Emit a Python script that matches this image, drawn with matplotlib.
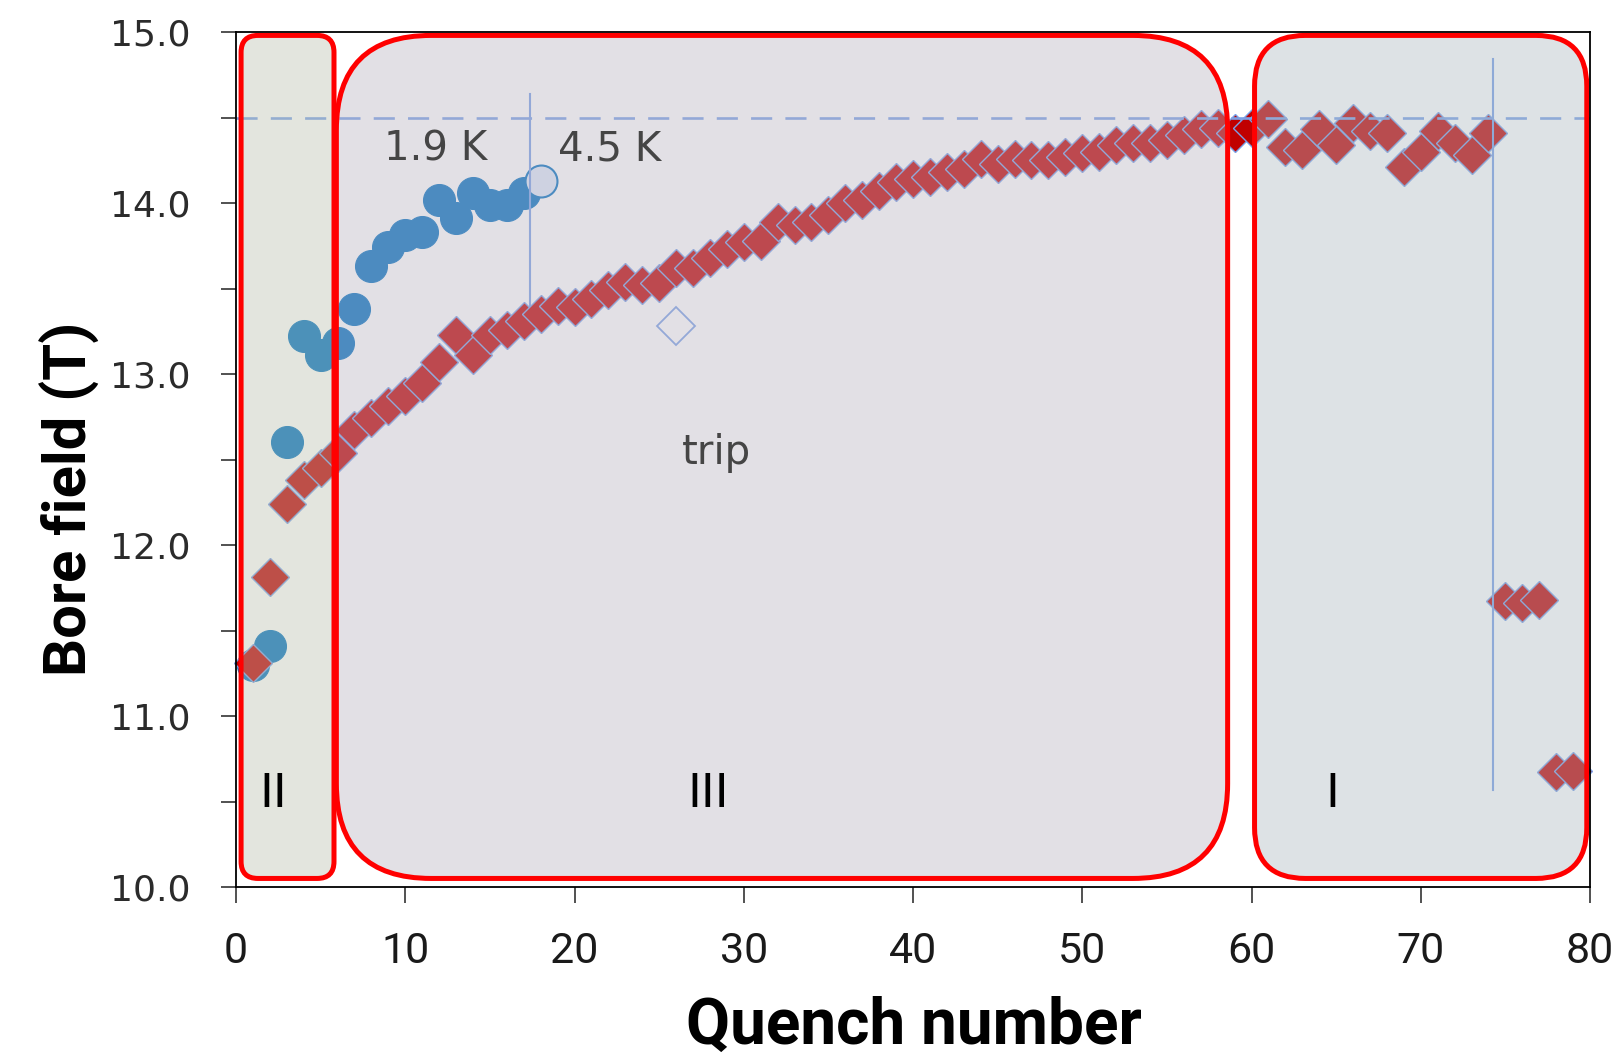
import numpy as np
import matplotlib
matplotlib.use("Agg")
import matplotlib.pyplot as plt
from matplotlib.patches import FancyBboxPatch
from matplotlib import font_manager

# ---------------- data ----------------
quench_red = list(range(1, 80))
field_red = [11.31, 11.81, 12.24, 12.38, 12.45, 12.54, 12.67, 12.74, 12.81, 12.87,
             12.95, 13.07, 13.23, 13.11, 13.23, 13.26, 13.31, 13.35, 13.40, 13.39,
             13.44, 13.49, 13.54, 13.52, 13.53, 13.62, 13.62, 13.68, 13.73, 13.77,
             13.78, 13.89, 13.87, 13.89, 13.93, 14.00, 14.02, 14.07, 14.12, 14.14,
             14.15, 14.18, 14.20, 14.26, 14.23, 14.26, 14.25, 14.25, 14.27, 14.29,
             14.30, 14.34, 14.35, 14.35, 14.37, 14.40, 14.43, 14.44, 14.41, 14.44,
             14.49, 14.33, 14.31, 14.43, 14.34, 14.47, 14.42, 14.41, 14.21, 14.30,
             14.42, 14.35, 14.28, 14.41, 11.67, 11.66, 11.68, 10.67, 10.68]

quench_blue = list(range(1, 18))
field_blue = [11.30, 11.41, 12.60, 13.22, 13.11, 13.18, 13.38, 13.63, 13.74, 13.81,
              13.83, 14.02, 13.91, 14.06, 13.99, 13.99, 14.06]

quench_blue45 = [18]
field_blue45 = [14.13]

trip_quench = [26]
trip_field = [13.28]

ref_field = 14.5
temp_switch_x = 17.4
temp_switch_y = [13.40, 14.64]
last_x = 74.25
last_y = [10.57, 14.84]

x_ticks = [0, 10, 20, 30, 40, 50, 60, 70, 80]
y_ticks = [10.0, 11.0, 12.0, 13.0, 14.0, 15.0]

# regions: (label, x0, x1, rounding radius in x units, fill colour rgb)
regions = [("II", 0.30, 5.79, 1.0, (0.733, 0.762, 0.696)),
           ("III", 5.93, 58.59, 5.6, (0.725, 0.706, 0.761)),
           ("I", 60.18, 79.81, 3.0, (0.677, 0.724, 0.762))]
region_y = (10.05, 14.98)

# ---------------- fonts ----------------
names = {f.name for f in font_manager.fontManager.ttflist}
narrow = "Roboto" if "Roboto" in names else "DejaVu Sans"

# ---------------- figure ----------------
W, H = 1623, 1060
fig = plt.figure(figsize=(W / 100, H / 100), dpi=100)
L, R, T, B = 236, 1590, 32, 887
ax = fig.add_axes([L / W, 1 - B / H, (R - L) / W, (B - T) / H])
ax.set_xlim(0, 80)
ax.set_ylim(10, 15)

marker_edge = "#7aa0e6"

# blue 1.9 K
ax.plot(quench_blue, field_blue, ls="none", marker="o", ms=23,
        mfc="#0070c0", mec="#0070c0", mew=0.8, clip_on=False, zorder=3)
# 4.5 K
ax.plot(quench_blue45, field_blue45, ls="none", marker="o", ms=23,
        mfc="#dde8f8", mec="#0070c0", mew=1.5, clip_on=False, zorder=3)
# red diamonds
ax.plot(quench_red, field_red, ls="none", marker="D", ms=19,
        mfc="#c00000", mec=marker_edge, mew=1.0, clip_on=False, zorder=3.2)
# trip
ax.plot(trip_quench, trip_field, ls="none", marker="D", ms=19,
        mfc="none", mec=marker_edge, mew=1.3, zorder=3.2)

# reference lines
ax.axhline(ref_field, color=marker_edge, lw=1.9, ls=(0, (8, 5)), zorder=3.5)
ax.plot([temp_switch_x, temp_switch_x], temp_switch_y, color=marker_edge, lw=1.5, zorder=3.5)
ax.plot([last_x, last_x], last_y, color=marker_edge, lw=1.5, zorder=3.5)

# overlay regions
px_per_x = (R - L) / 80.0
px_per_y = (B - T) / 5.0
aspect = px_per_x / px_per_y
for label, x0, x1, rad, col in regions:
    p = FancyBboxPatch((x0, region_y[0]), x1 - x0, region_y[1] - region_y[0],
                       boxstyle=f"round,pad=0,rounding_size={rad}",
                       mutation_aspect=aspect, transform=ax.transData,
                       facecolor=(*col, 0.41), edgecolor="#ff0000", lw=3.6,
                       zorder=5, clip_on=False)
    ax.add_patch(p)

# region labels
ax.text(2.2, 10.54, "II", fontsize=34, ha="center", va="center", color="black", zorder=6)
ax.text(27.9, 10.54, "III", fontsize=34, ha="center", va="center", color="black", zorder=6)
ax.text(64.8, 10.54, "I", fontsize=34, ha="center", va="center", color="black", zorder=6)

# annotations
ax.text(11.8, 14.31, "1.9 K", fontsize=29, ha="center", va="center", color="#454545", zorder=6)
ax.text(22.1, 14.31, "4.5 K", fontsize=29, ha="center", va="center", color="#454545", zorder=6)
ax.text(28.4, 12.54, "trip", fontsize=29, ha="center", va="center", color="#454545", zorder=6)

# axes styling
for s in ax.spines.values():
    s.set_color("black")
    s.set_linewidth(1.3)
    s.set_zorder(7)

ax.set_xticks(x_ticks)
ax.set_xticklabels([str(v) for v in x_ticks], fontfamily=[narrow, "DejaVu Sans"], fontsize=31, color="#1a1a1a")
ax.set_yticks(y_ticks)
ax.set_yticklabels([f"{v:.1f}" for v in y_ticks], fontfamily="DejaVu Sans", fontsize=26, color="#2b2b2b")
ax.set_yticks(np.arange(10.5, 15.0, 1.0), minor=True)
ax.tick_params(axis="y", which="both", direction="out", length=11, width=1.2, pad=22, color="#333333")
ax.tick_params(axis="x", which="both", direction="out", length=11.5, width=1.2, pad=20, color="#333333")

fig.text(914 / W, 1 - 1026 / H, "Quench number", fontfamily=[narrow, "DejaVu Sans"],
         fontweight="bold", fontsize=46, ha="center", va="center", color="black")
fig.text(70 / W, 1 - 499 / H, "Bore field (T)", fontfamily=[narrow, "DejaVu Sans"],
         fontweight="bold", fontsize=43, ha="center", va="center", rotation=90, color="black")

fig.savefig("out.png", dpi=100, facecolor="white")
